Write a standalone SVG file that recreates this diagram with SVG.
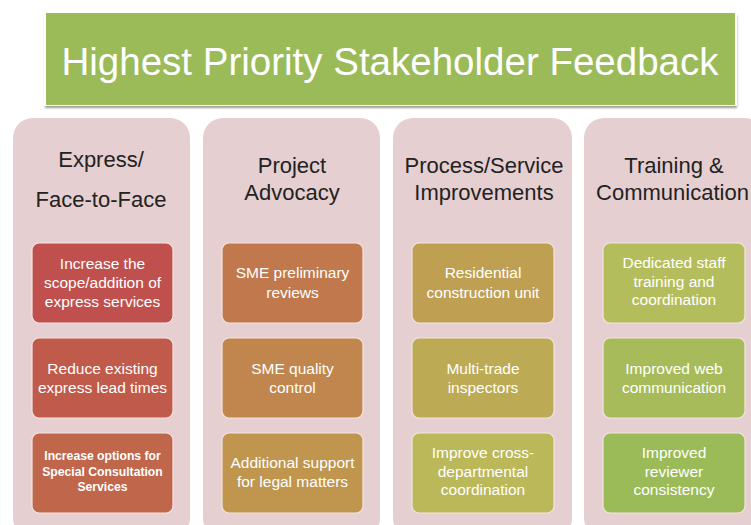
<svg xmlns="http://www.w3.org/2000/svg" width="751" height="525" viewBox="0 0 751 525">
  <defs>
    <filter id="titleShadow" x="-5%" y="-10%" width="110%" height="130%">
      <feGaussianBlur stdDeviation="1.2"/>
    </filter>
  </defs>
  <style>
    .col { fill: #E6CFD0; }
    .item { stroke: #F3E4E2; stroke-width: 1.2; }
    .head { font-family: "Liberation Sans", Arial, sans-serif; font-size: 22px; fill: #222222; text-anchor: middle; }
    .txt { font-family: "Liberation Sans", Arial, sans-serif; font-size: 15.5px; fill: #FFFFFF; text-anchor: middle; }
    .small { font-size: 12.2px; font-weight: bold; }
    .title { font-family: "Liberation Sans", Arial, sans-serif; font-size: 38.5px; fill: #FFFFFF; text-anchor: middle; }
  </style>

  <rect width="751" height="525" fill="#FFFFFF"/>

  <!-- title banner -->
  <g id="title">
    <rect x="45" y="15" width="692" height="93" fill="#9A9A9A" filter="url(#titleShadow)"/>
    <rect x="44" y="12" width="693" height="94" fill="#FFFFFF"/>
    <rect x="46" y="13" width="689" height="92" fill="#9BBB59"/>
    <text class="title" x="390" y="75">Highest Priority Stakeholder Feedback</text>
  </g>

  <!-- column 1 -->
  <g id="col-express">
    <rect class="col" x="13" y="118" width="177" height="420" rx="20"/>
    <text class="head" x="101" y="167">Express/</text>
    <text class="head" x="101" y="207">Face-to-Face</text>
  </g>
  <g id="express-scope">
    <rect class="item" x="32" y="243" width="141" height="80" rx="7" fill="#C0504D"/>
    <text class="txt" x="102.5" y="269">Increase the</text>
    <text class="txt" x="102.5" y="288">scope/addition of</text>
    <text class="txt" x="102.5" y="307">express services</text>
  </g>
  <g id="express-lead">
    <rect class="item" x="32" y="338" width="141" height="80" rx="7" fill="#C05A4B"/>
    <text class="txt" x="102.5" y="374">Reduce existing</text>
    <text class="txt" x="102.5" y="393">express lead times</text>
  </g>
  <g id="express-consult">
    <rect class="item" x="32" y="433" width="141" height="80" rx="7" fill="#C0664B"/>
    <text class="txt small" x="102.5" y="460">Increase options for</text>
    <text class="txt small" x="102.5" y="476">Special Consultation</text>
    <text class="txt small" x="102.5" y="491">Services</text>
  </g>

  <!-- column 2 -->
  <g id="col-advocacy">
    <rect class="col" x="203" y="118" width="177" height="420" rx="20"/>
    <text class="head" x="292" y="173">Project</text>
    <text class="head" x="292" y="200">Advocacy</text>
  </g>
  <g id="sme-prelim">
    <rect class="item" x="222" y="243" width="141" height="80" rx="7" fill="#C0784C"/>
    <text class="txt" x="292.5" y="278">SME preliminary</text>
    <text class="txt" x="292.5" y="298">reviews</text>
  </g>
  <g id="sme-quality">
    <rect class="item" x="222" y="338" width="141" height="80" rx="7" fill="#C0864D"/>
    <text class="txt" x="292.5" y="374">SME quality</text>
    <text class="txt" x="292.5" y="393">control</text>
  </g>
  <g id="legal-support">
    <rect class="item" x="222" y="433" width="141" height="80" rx="7" fill="#C0964F"/>
    <text class="txt" x="292.5" y="468">Additional support</text>
    <text class="txt" x="292.5" y="487">for legal matters</text>
  </g>

  <!-- column 3 -->
  <g id="col-process">
    <rect class="col" x="393" y="118" width="179" height="420" rx="20"/>
    <text class="head" x="484" y="173">Process/Service</text>
    <text class="head" x="484" y="200">Improvements</text>
  </g>
  <g id="residential">
    <rect class="item" x="412" y="243" width="142" height="80" rx="7" fill="#BFA052"/>
    <text class="txt" x="483" y="278">Residential</text>
    <text class="txt" x="483" y="298">construction unit</text>
  </g>
  <g id="multi-trade">
    <rect class="item" x="412" y="338" width="142" height="80" rx="7" fill="#BDAA54"/>
    <text class="txt" x="483" y="374">Multi-trade</text>
    <text class="txt" x="483" y="393">inspectors</text>
  </g>
  <g id="cross-dept">
    <rect class="item" x="412" y="433" width="142" height="80" rx="7" fill="#BBB859"/>
    <text class="txt" x="483" y="458">Improve cross-</text>
    <text class="txt" x="483" y="477">departmental</text>
    <text class="txt" x="483" y="495">coordination</text>
  </g>

  <!-- column 4 -->
  <g id="col-training">
    <rect class="col" x="584" y="118" width="180" height="420" rx="20"/>
    <text class="head" x="674" y="173">Training &amp;</text>
    <text class="head" x="672.5" y="200">Communication</text>
  </g>
  <g id="staff-training">
    <rect class="item" x="603" y="243" width="142" height="80" rx="7" fill="#B4BD5B"/>
    <text class="txt" x="674" y="268">Dedicated staff</text>
    <text class="txt" x="674" y="287">training and</text>
    <text class="txt" x="674" y="305">coordination</text>
  </g>
  <g id="web-comm">
    <rect class="item" x="603" y="338" width="142" height="80" rx="7" fill="#A8BB5A"/>
    <text class="txt" x="674" y="374">Improved web</text>
    <text class="txt" x="674" y="393">communication</text>
  </g>
  <g id="reviewer">
    <rect class="item" x="603" y="433" width="142" height="80" rx="7" fill="#9BBB59"/>
    <text class="txt" x="674" y="458">Improved</text>
    <text class="txt" x="674" y="477">reviewer</text>
    <text class="txt" x="674" y="495">consistency</text>
  </g>

  <!-- no connectors in this layout -->
  <g id="connectors"/>
</svg>
